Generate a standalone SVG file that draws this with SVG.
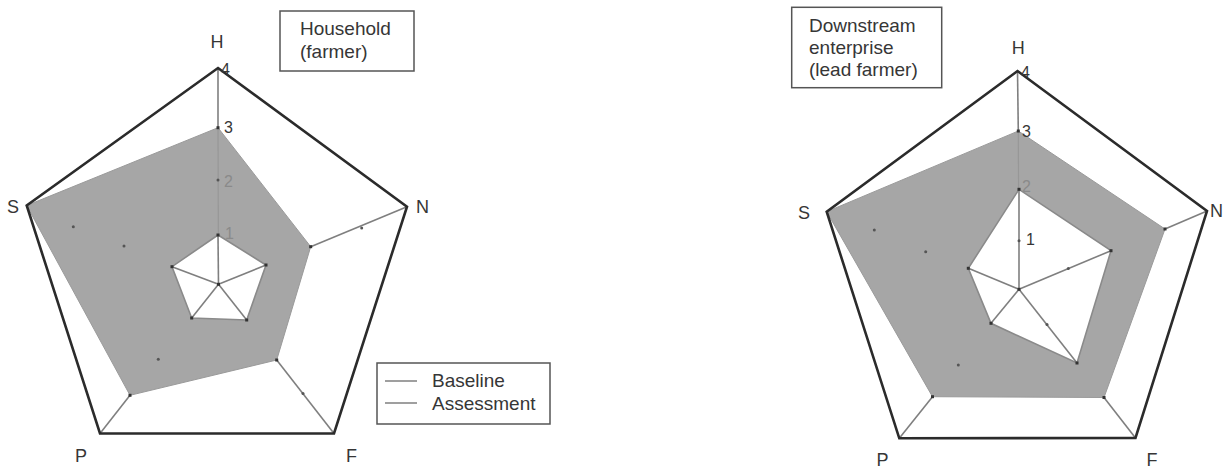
<svg xmlns="http://www.w3.org/2000/svg" width="1224" height="468" viewBox="0 0 1224 468">
<style>
text{font-family:"Liberation Sans",Arial,sans-serif;fill:#363636}
.lab{font-size:18px}
.num{font-size:16px}
.faint{fill:#8a8a8a}
.box{fill:#fff;stroke:#555;stroke-width:1.5}
.bt{font-size:19px}
.outer{fill:none;stroke:#2b2b2b;stroke-width:2.6;stroke-linejoin:miter}
.assess{fill:#a6a6a6;stroke:#9a9a9a;stroke-width:1}
.base{fill:#fff;stroke:#8a8a8a;stroke-width:1.6}
.axis{stroke:#7f7f7f;stroke-width:1.6;fill:none}
.axisin{stroke:#979797;stroke-width:1.2;fill:none}
.dot{fill:#333}
.tick{fill:#555}
</style>
<rect width="1224" height="468" fill="#fff"/>

<g id="chart-household">
  <polygon class="assess" points="218,127.7 310.7,246.7 276.7,360 130,395.3 26.7,205.5"/>
  <line class="axisin" x1="218.5" y1="284.3" x2="218" y2="127.7"/>
  <polygon class="base" points="218,235 266,265 246.7,320 191.7,318 172,266.7"/>
  <g class="axis">
    <line x1="218.5" y1="284.3" x2="218" y2="235"/>
    <line x1="218.5" y1="284.3" x2="266" y2="265"/>
    <line x1="218.5" y1="284.3" x2="246.7" y2="320"/>
    <line x1="218.5" y1="284.3" x2="191.7" y2="318"/>
    <line x1="218.5" y1="284.3" x2="172" y2="266.7"/>
    <line x1="218" y1="127.7" x2="218" y2="68"/>
    <line x1="310.7" y1="246.7" x2="407" y2="206.7"/>
    <line x1="276.7" y1="360" x2="334" y2="433.5"/>
    <line x1="130" y1="395.3" x2="100" y2="433.5"/>
  </g>
  <polygon class="outer" points="218,68 407,206.7 334,433.5 100,433.5 26.7,205.5"/>
  <g class="dot">
    <rect x="216.5" y="126.2" width="3" height="3"/>
    <rect x="309.2" y="245.2" width="3" height="3"/>
    <rect x="275.2" y="358.5" width="3" height="3"/>
    <rect x="128.5" y="393.8" width="3" height="3"/>
    <rect x="216.5" y="233.5" width="3" height="3"/>
    <rect x="264.5" y="263.5" width="3" height="3"/>
    <rect x="245.2" y="318.5" width="3" height="3"/>
    <rect x="190.2" y="316.5" width="3" height="3"/>
    <rect x="170.5" y="265.2" width="3" height="3"/>
    <rect x="217" y="282.8" width="3" height="3"/>
  </g>
  <g class="tick">
    <circle cx="218" cy="180" r="1.5"/>
    <circle cx="361.7" cy="228" r="1.5"/>
    <circle cx="303" cy="393.5" r="1.5"/>
    <circle cx="158.3" cy="359.3" r="1.5"/>
    <circle cx="73.3" cy="226.7" r="1.5"/>
    <circle cx="124" cy="246" r="1.5"/>
  </g>
  <text class="lab" x="217" y="48" text-anchor="middle">H</text>
  <text class="lab" x="416" y="213">N</text>
  <text class="lab" x="7" y="213">S</text>
  <text class="lab" x="75" y="462">P</text>
  <text class="lab" x="346" y="462">F</text>
  <text class="num" x="221" y="75">4</text>
  <text class="num" x="224" y="133">3</text>
  <text class="num faint" x="224" y="187">2</text>
  <text class="num faint" x="225" y="239">1</text>
</g>

<g id="title-household">
  <rect class="box" x="280" y="11" width="134" height="60"/>
  <text class="bt" x="300" y="35">Household</text>
  <text class="bt" x="300" y="58">(farmer)</text>
</g>

<g id="legend">
  <rect class="box" x="377" y="363" width="173" height="61"/>
  <line x1="385" y1="381" x2="417" y2="381" stroke="#7f7f7f" stroke-width="1.5"/>
  <line x1="385" y1="403" x2="417" y2="403" stroke="#7f7f7f" stroke-width="1.5"/>
  <text class="bt" x="432" y="387">Baseline</text>
  <text class="bt" x="432" y="410">Assessment</text>
</g>

<g id="chart-downstream">
  <polygon class="assess" points="1018.3,131 1165,229 1104,397.5 932.5,396.7 826.7,211.7"/>
  <line class="axisin" x1="1019" y1="289.3" x2="1018.3" y2="131"/>
  <polygon class="base" points="1019,189.3 1111,250.7 1077,363 991,323.3 968.3,268.3"/>
  <g class="axis">
    <line x1="1019" y1="289.3" x2="1019" y2="189.3"/>
    <line x1="1019" y1="289.3" x2="1111" y2="250.7"/>
    <line x1="1019" y1="289.3" x2="1077" y2="363"/>
    <line x1="1019" y1="289.3" x2="991" y2="323.3"/>
    <line x1="1019" y1="289.3" x2="968.3" y2="268.3"/>
    <line x1="1018.3" y1="131" x2="1017.5" y2="71"/>
    <line x1="1165" y1="229" x2="1207" y2="211"/>
    <line x1="1104" y1="397.5" x2="1135.5" y2="438"/>
    <line x1="932.5" y1="396.7" x2="899.3" y2="438.3"/>
  </g>
  <polygon class="outer" points="1017.5,71 1207,211 1135.5,438 899.3,438.3 826.7,211.7"/>
  <g class="dot">
    <rect x="1016.8" y="129.5" width="3" height="3"/>
    <rect x="1163.5" y="227.5" width="3" height="3"/>
    <rect x="1102.5" y="396" width="3" height="3"/>
    <rect x="931" y="395.2" width="3" height="3"/>
    <rect x="1017.5" y="187.8" width="3" height="3"/>
    <rect x="1109.5" y="249.2" width="3" height="3"/>
    <rect x="1075.5" y="361.5" width="3" height="3"/>
    <rect x="989.5" y="321.8" width="3" height="3"/>
    <rect x="966.8" y="266.8" width="3" height="3"/>
    <rect x="1017.5" y="287.8" width="3" height="3"/>
  </g>
  <g class="tick">
    <circle cx="1019" cy="240.7" r="1.5"/>
    <circle cx="1068.3" cy="268.5" r="1.5"/>
    <circle cx="1047" cy="324.5" r="1.5"/>
    <circle cx="958.3" cy="365" r="1.5"/>
    <circle cx="925.7" cy="251.7" r="1.5"/>
    <circle cx="874.3" cy="230" r="1.5"/>
  </g>
  <text class="lab" x="1018.3" y="54" text-anchor="middle">H</text>
  <text class="lab" x="1210" y="217">N</text>
  <text class="lab" x="798" y="219">S</text>
  <text class="lab" x="876.5" y="466">P</text>
  <text class="lab" x="1146.5" y="466">F</text>
  <text class="num" x="1021" y="78">4</text>
  <text class="num" x="1022" y="137">3</text>
  <text class="num faint" x="1022" y="192">2</text>
  <text class="num" x="1026" y="245">1</text>
</g>

<g id="title-downstream">
  <rect class="box" x="791.7" y="7.3" width="150" height="80.4"/>
  <text class="bt" x="809" y="32">Downstream</text>
  <text class="bt" x="809" y="54">enterprise</text>
  <text class="bt" x="809" y="76">(lead farmer)</text>
</g>
</svg>
